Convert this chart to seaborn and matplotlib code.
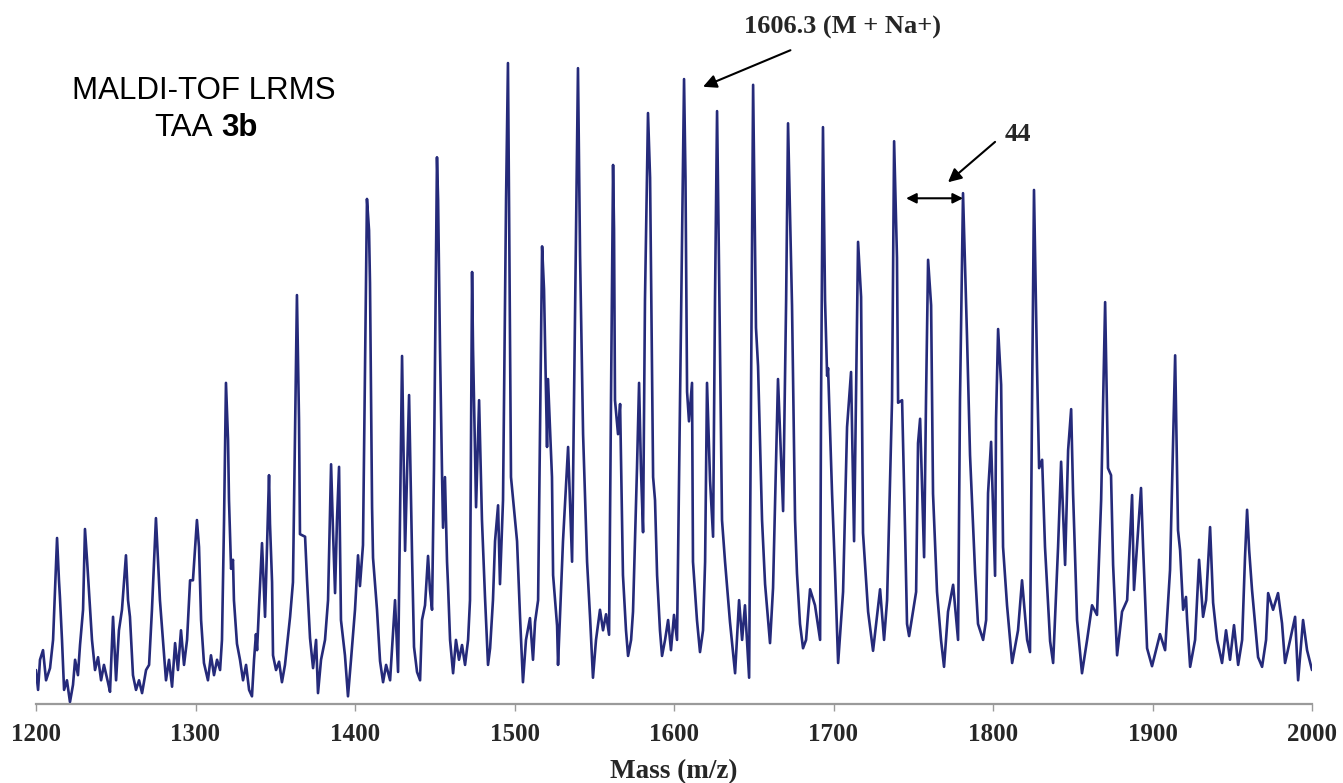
import numpy as np
import pandas as pd
import matplotlib
matplotlib.use("Agg")
import matplotlib.pyplot as plt
import seaborn as sns

# MALDI-TOF spectrum trace: m/z and relative intensity (%)
mz = [
    1200.0, 1201.3, 1202.5, 1204.4, 1206.3, 1208.8, 1210.7, 1213.2, 1214.4, 1215.0,
    1216.3, 1217.6, 1219.4, 1221.3, 1223.2, 1224.5, 1226.3, 1227.6, 1229.5, 1230.7,
    1232.0, 1233.9, 1235.1, 1237.0, 1238.9, 1240.8, 1242.6, 1245.1, 1246.4, 1248.3,
    1250.2, 1252.0, 1253.9, 1256.4, 1257.7, 1258.9, 1260.8, 1262.7, 1264.6, 1266.5,
    1269.0, 1270.9, 1272.7, 1275.2, 1276.5, 1277.7, 1279.6, 1281.5, 1283.4, 1285.3,
    1287.2, 1289.0, 1290.9, 1292.8, 1294.7, 1296.6, 1298.4, 1300.9, 1302.2, 1303.5,
    1305.3, 1307.8, 1309.7, 1311.6, 1313.5, 1315.4, 1316.6, 1317.9, 1319.1, 1320.4,
    1321.0, 1322.3, 1323.5, 1324.1, 1326.0, 1327.9, 1329.8, 1331.7, 1333.6, 1335.4,
    1336.7, 1337.9, 1338.6, 1339.8, 1341.7, 1343.0, 1343.6, 1346.1, 1346.7, 1348.0,
    1348.6, 1350.5, 1352.4, 1354.2, 1356.1, 1359.3, 1361.1, 1363.6, 1364.9, 1365.5,
    1368.7, 1369.9, 1371.8, 1373.7, 1375.6, 1376.8, 1378.7, 1381.2, 1383.1, 1385.0,
    1386.2, 1387.5, 1388.7, 1390.0, 1391.2, 1393.7, 1395.6, 1397.5, 1400.0, 1401.9,
    1403.1, 1405.0, 1407.5, 1408.8, 1409.4, 1410.7, 1411.3, 1413.8, 1415.7, 1417.6,
    1419.5, 1422.0, 1425.1, 1427.0, 1429.5, 1431.4, 1433.9, 1435.8, 1437.0, 1438.9,
    1440.8, 1442.0, 1443.9, 1445.8, 1447.0, 1448.3, 1449.5, 1451.4, 1452.1, 1453.3,
    1454.6, 1455.2, 1456.4, 1457.7, 1458.3, 1459.6, 1461.5, 1463.3, 1465.2, 1467.1,
    1469.0, 1470.9, 1472.1, 1473.4, 1474.0, 1475.9, 1477.8, 1479.6, 1481.5, 1483.4,
    1484.7, 1486.5, 1487.8, 1489.7, 1490.9, 1492.8, 1494.7, 1495.9, 1496.6, 1497.8,
    1500.3, 1501.6, 1503.5, 1505.3, 1507.2, 1509.7, 1511.6, 1512.9, 1514.8, 1517.3,
    1518.5, 1520.4, 1521.0, 1523.5, 1524.2, 1526.7, 1527.3, 1530.4, 1533.6, 1536.1,
    1537.3, 1539.8, 1541.1, 1543.0, 1545.5, 1547.4, 1549.2, 1551.1, 1553.6, 1555.5,
    1557.4, 1559.3, 1560.5, 1561.8, 1562.4, 1563.0, 1564.9, 1566.2, 1567.4, 1568.0,
    1569.9, 1571.2, 1573.1, 1574.3, 1576.8, 1578.1, 1579.3, 1580.6, 1581.8, 1583.7,
    1585.0, 1586.9, 1588.1, 1589.4, 1591.2, 1592.5, 1594.4, 1596.3, 1598.1, 1600.0,
    1601.9, 1603.8, 1606.3, 1607.2, 1608.2, 1609.4, 1611.3, 1611.9, 1614.4, 1616.3,
    1618.2, 1619.5, 1620.7, 1622.6, 1624.5, 1625.7, 1627.0, 1628.2, 1630.1, 1632.0,
    1635.1, 1638.3, 1640.8, 1642.7, 1644.5, 1647.1, 1648.3, 1649.6, 1651.4, 1652.7,
    1655.2, 1657.1, 1660.2, 1662.1, 1665.2, 1668.4, 1670.3, 1671.5, 1674.0, 1675.9,
    1677.1, 1679.0, 1680.9, 1682.8, 1685.3, 1688.4, 1691.6, 1692.2, 1693.4, 1694.7,
    1696.0, 1696.6, 1699.1, 1701.0, 1702.9, 1706.0, 1708.5, 1711.0, 1712.9, 1714.1,
    1715.4, 1717.3, 1718.5, 1721.7, 1724.8, 1729.2, 1731.7, 1733.6, 1736.7, 1738.0,
    1739.8, 1740.5, 1743.0, 1744.9, 1746.1, 1747.4, 1751.8, 1753.0, 1754.3, 1756.8,
    1758.0, 1759.3, 1761.2, 1762.4, 1764.9, 1767.4, 1769.3, 1771.8, 1775.0, 1778.1,
    1779.3, 1781.2, 1783.7, 1785.6, 1788.8, 1790.6, 1793.8, 1795.7, 1796.9, 1798.8,
    1801.3, 1801.9, 1803.2, 1805.1, 1806.3, 1808.8, 1812.0, 1815.7, 1818.2, 1821.4,
    1823.2, 1824.5, 1825.7, 1827.6, 1828.9, 1830.8, 1832.6, 1835.8, 1837.7, 1840.8,
    1842.7, 1845.2, 1847.1, 1849.0, 1850.2, 1852.7, 1855.8, 1859.0, 1862.1, 1865.2,
    1867.8, 1870.3, 1872.1, 1874.0, 1875.3, 1877.8, 1880.9, 1884.1, 1887.2, 1888.4,
    1892.8, 1894.1, 1896.6, 1899.7, 1904.7, 1907.9, 1911.0, 1914.2, 1916.0, 1917.3,
    1919.2, 1921.0, 1921.7, 1923.6, 1926.7, 1929.2, 1931.7, 1933.6, 1936.1, 1938.0,
    1940.5, 1943.6, 1946.1, 1948.6, 1951.1, 1953.7, 1956.2, 1958.0, 1959.3, 1960.6,
    1962.4, 1964.3, 1966.2, 1968.7, 1971.2, 1972.5, 1975.6, 1978.7, 1981.2, 1983.1,
    1986.3, 1989.4, 1991.3, 1994.4, 1996.9, 2000.0,
]

intensity = [
    5.3, 2.2, 6.9, 8.4, 3.7, 5.6, 10.0, 25.9, 19.3, 16.7,
    10.0, 2.2, 3.7, 0.3, 3.0, 6.9, 4.5, 9.2, 14.7, 27.3,
    22.5, 14.7, 10.0, 5.3, 7.3, 3.7, 6.1, 3.4, 1.9, 13.6,
    3.7, 11.5, 14.7, 23.2, 16.2, 13.6, 4.5, 2.2, 3.7, 1.7,
    5.3, 6.1, 14.7, 29.0, 22.5, 16.2, 10.0, 3.7, 6.9, 2.7,
    9.5, 5.3, 11.5, 6.1, 10.0, 19.3, 19.3, 28.7, 24.5, 13.1,
    6.4, 3.7, 7.6, 4.5, 6.9, 5.3, 10.0, 28.7, 50.1, 41.2,
    31.8, 21.1, 22.5, 16.2, 9.4, 6.9, 3.7, 6.1, 2.2, 1.2,
    6.9, 10.9, 8.4, 15.1, 25.1, 17.5, 13.6, 35.7, 28.1, 19.0,
    7.6, 5.3, 6.6, 3.4, 6.1, 13.6, 19.0, 63.8, 44.3, 26.5,
    26.1, 19.5, 10.3, 5.6, 10.0, 1.7, 6.9, 10.0, 16.2, 37.4,
    27.1, 17.3, 28.7, 37.0, 13.1, 7.6, 1.2, 6.9, 14.7, 23.2,
    18.4, 24.8, 78.8, 73.9, 65.7, 30.7, 22.8, 14.7, 6.7, 3.4,
    6.1, 3.7, 16.2, 5.0, 54.3, 23.9, 48.2, 22.8, 8.9, 5.0,
    3.7, 13.1, 15.4, 23.1, 17.8, 14.7, 36.5, 85.3, 78.6, 55.4,
    35.4, 27.5, 35.4, 22.2, 18.7, 10.0, 4.8, 10.0, 6.9, 9.2,
    6.1, 10.0, 16.2, 67.4, 55.4, 30.7, 47.4, 28.7, 16.7, 6.1,
    8.7, 16.2, 25.4, 31.0, 18.7, 31.8, 78.6, 100.0, 77.4, 35.4,
    28.7, 25.4, 13.4, 3.4, 10.0, 13.4, 6.9, 12.8, 16.2, 71.4,
    64.7, 40.1, 50.7, 35.4, 20.1, 12.2, 6.1, 25.4, 40.1, 22.2,
    47.4, 99.2, 70.0, 42.1, 22.2, 13.4, 4.1, 10.0, 14.7, 11.5,
    14.0, 10.8, 47.4, 84.1, 74.1, 47.4, 42.1, 46.8, 28.7, 20.1,
    11.5, 7.5, 10.0, 14.4, 36.8, 50.1, 36.5, 26.8, 63.0, 92.2,
    82.1, 35.4, 31.8, 20.1, 11.5, 7.5, 10.0, 13.1, 8.4, 13.9,
    10.0, 47.4, 97.5, 82.1, 48.7, 44.1, 50.1, 22.2, 13.1, 8.1,
    11.5, 22.2, 50.1, 34.9, 26.1, 63.0, 92.5, 68.8, 28.7, 22.2,
    12.8, 4.8, 16.2, 10.0, 15.4, 4.1, 47.4, 96.6, 58.7, 52.7,
    28.7, 18.7, 9.5, 18.1, 50.7, 30.1, 63.0, 90.6, 62.1, 28.7,
    20.4, 12.5, 8.7, 10.0, 17.9, 15.4, 10.0, 47.4, 90.0, 63.0,
    51.2, 52.4, 32.8, 20.4, 6.4, 17.5, 43.2, 51.8, 25.4, 47.4,
    72.1, 63.5, 26.7, 14.4, 8.3, 17.9, 10.0, 16.2, 47.4, 87.8,
    69.6, 47.0, 47.4, 26.7, 12.5, 10.6, 17.5, 40.7, 44.5, 22.9,
    47.4, 69.3, 62.2, 32.8, 17.5, 10.0, 5.8, 14.4, 18.6, 10.0,
    47.4, 79.7, 57.4, 38.8, 20.4, 12.5, 10.0, 13.1, 32.9, 40.9,
    20.0, 44.3, 58.5, 49.8, 24.5, 15.4, 6.4, 11.5, 19.3, 10.0,
    8.1, 47.4, 80.2, 52.6, 36.8, 38.1, 24.5, 9.8, 6.4, 24.5,
    37.8, 21.7, 39.6, 46.0, 32.9, 13.1, 4.8, 10.0, 15.4, 13.9,
    31.8, 62.7, 36.8, 35.7, 21.7, 7.6, 14.4, 16.2, 32.6, 17.8,
    33.7, 24.5, 8.7, 5.9, 10.9, 8.4, 20.9, 54.4, 27.1, 24.0,
    14.7, 16.7, 13.1, 5.8, 10.0, 22.5, 13.6, 16.2, 27.6, 15.8,
    10.0, 6.4, 11.5, 6.9, 12.3, 6.1, 10.0, 22.9, 30.3, 24.0,
    17.8, 12.6, 7.3, 5.8, 10.0, 17.3, 14.7, 17.3, 12.6, 6.4,
    10.0, 13.6, 3.7, 13.1, 8.4, 5.3,
]

tick_values = [1200, 1300, 1400, 1500, 1600, 1700, 1800, 1900, 2000]

spectrum = pd.DataFrame({"mz": mz, "intensity": intensity})

sns.set_theme(style="white")
plt.rcParams["font.family"] = ["Liberation Serif", "DejaVu Serif"]

fig = plt.figure(figsize=(13.43, 7.83), dpi=100)
ax = fig.add_axes([36 / 1343, 1 - 704 / 783, 1276 / 1343, 673 / 783])

line_color = "#252a7a"
sns.lineplot(data=spectrum, x="mz", y="intensity", ax=ax, sort=False,
             color=line_color, linewidth=1.9)

ax.set_xlim(1200, 2000)
ax.set_ylim(0, 105)
ax.set_xticks(tick_values)
ax.set_xticklabels([str(t) for t in tick_values], fontsize=18, fontweight="bold",
                   family="Liberation Serif")
ax.set_yticks([])
ax.set_ylabel("")
ax.set_xlabel("Mass (m/z)", fontsize=19.5, fontweight="bold",
              family="Liberation Serif", labelpad=9)

for side in ("top", "left", "right"):
    ax.spines[side].set_visible(False)
ax.spines["bottom"].set_color("#9a9a9a")
ax.spines["bottom"].set_linewidth(1.6)
ax.tick_params(axis="x", direction="out", length=5, width=1, color="#9a9a9a",
               pad=9, bottom=True)

# Sample labels
fig.text(204 / 1343, 1 - 91 / 783, "MALDI-TOF LRMS", fontsize=22.5,
         family="Liberation Sans", ha="center", va="center", color="black")
fig.text(213 / 1343, 1 - 128 / 783, "TAA", fontsize=22.5,
         family="Liberation Sans", ha="right", va="center", color="black")
fig.text(221 / 1343, 1 - 128 / 783, "3b", fontsize=22.5, fontweight="bold",
         family="Liberation Sans", ha="left", va="center", color="black")

arrow_kw = dict(arrowstyle="-|>", color="black", lw=1.5, mutation_scale=20,
                shrinkA=0, shrinkB=0)

# Molecular ion annotation
ax.annotate("", xy=(1618.2, 96.3), xytext=(1673.0, 102.0),
            arrowprops=arrow_kw, annotation_clip=False)
ax.text(1705.4, 105.5, "1606.3 (M + Na+)", fontsize=19, fontweight="bold",
        ha="center", va="center", clip_on=False)

# Repeat-unit spacing annotation
ax.annotate("", xy=(1771.8, 81.4), xytext=(1801.3, 87.7),
            arrowprops=arrow_kw, annotation_clip=False)
ax.text(1815.5, 88.8, "44", fontsize=19, fontweight="bold",
        ha="center", va="center", clip_on=False)
ax.annotate("", xy=(1745.5, 78.9), xytext=(1781.2, 78.9),
            arrowprops=dict(arrowstyle="<|-|>", color="black", lw=1.5,
                            mutation_scale=15, shrinkA=0, shrinkB=0),
            annotation_clip=False)

fig.savefig("out.png", dpi=100, facecolor="white")
